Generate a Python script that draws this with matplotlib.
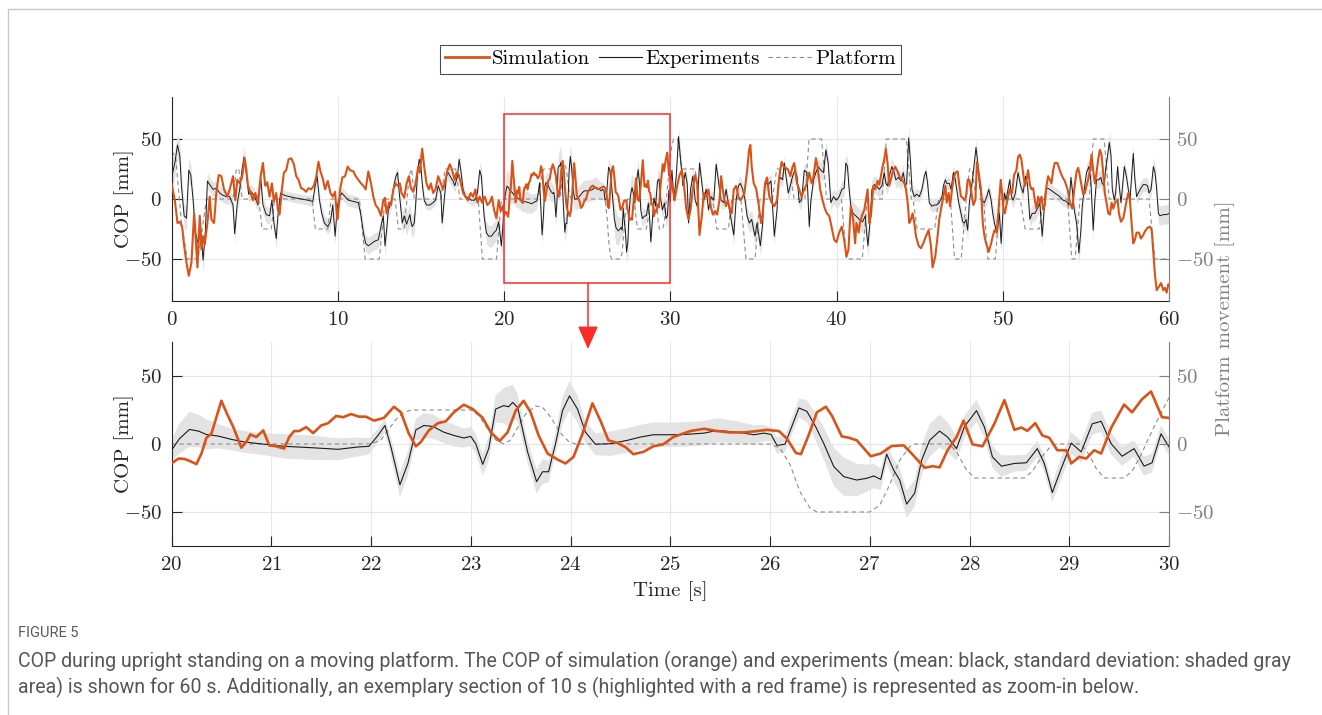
import numpy as np
import matplotlib
matplotlib.use("Agg")
import matplotlib.pyplot as plt
from matplotlib.patches import Rectangle, FancyArrowPatch
from matplotlib.lines import Line2D
from matplotlib import font_manager as fm

# ---------------- data ----------------
# Simulation COP [mm]
sim_t_a = [0.0,0.2,0.36,0.5,0.64,0.76,0.9,1.04,1.2,1.36,1.56,1.7,1.8,1.9,2.0,2.16,2.3,2.4,2.56,2.7,
           2.84,3.0,3.16,3.36,3.5,3.7,3.84,3.96,4.1,4.24,4.4,4.5,4.6,4.76,4.9,5.04,5.2,5.36,5.5,5.64,
           5.76,5.9,6.04,6.16,6.3,6.4,6.5,6.64,6.76,6.9,7.04,7.2,7.36,7.5,7.64,7.8,7.96,8.1,8.24,8.4,
           8.56,8.7,8.84,8.96,9.1,9.24,9.4,9.56,9.7,9.84,9.96]
sim_v_a = [13,-1,-20,-19,-23,-39,-53,-64,-53,-12,-57,-14,-42,-31,-38,-20,2,-17,-20,6,
           20,19,8,2,8,19,-1,16,13,18,34,24,11,5,-1,5,-3,19,30,11,
           14,2,13,-2,5,-9,-13,8,22,24,33,34,29,19,16,9,8,6,9,8,
           11,18,31,23,17,8,15,5,2,6,-17]
sim_t_b = [10.0,10.14,10.28,10.44,10.6,10.74,10.94,11.08,11.24,11.4,11.54,11.68,11.84,12.0,12.14,12.28,12.44,12.6,12.74,12.84,
           12.94,13.08,13.2,13.34,13.48,13.6,13.74,13.84,14.0,14.14,14.28,14.4,14.54,14.68,14.84,14.94,15.08,15.2,15.34,15.48,
           15.6,15.74,15.88,16.04,16.2,16.34,16.48,16.6,16.74,16.88,17.04,17.14,17.28,17.4,17.54,17.68,17.84,18.0,18.14,18.28,
           18.4,18.54,18.68,18.84,19.0,19.14,19.28,19.4,19.54,19.68,19.8,19.92]
sim_v_b = [-16,8,18,19,27,24,23,19,16,13,11,8,23,13,2,-5,-8,-14,-1,1,
           -12,-3,-5,8,13,11,13,5,1,13,19,9,6,13,27,22,42,27,13,8,
           13,5,8,19,13,8,16,24,29,24,16,22,20,13,5,2,-1,5,2,8,
           -3,2,-3,2,-5,-3,2,-9,-16,-1,-10,-6]
sim_t_c = [20.0,20.07,20.13,20.18,20.25,20.3,20.35,20.4,20.45,20.5,20.55,20.62,20.7,20.75,20.79,20.85,20.92,20.98,21.05,21.13,
           21.18,21.23,21.28,21.35,21.42,21.5,21.57,21.65,21.72,21.8,21.88,21.95,22.03,22.13,22.23,22.3,22.38,22.45,22.5,22.58,
           22.67,22.75,22.83,22.93,23.02,23.12,23.2,23.29,23.37,23.45,23.53,23.6,23.68,23.77,23.87,23.95,24.03,24.12,24.22,24.3,
           24.38,24.47,24.55,24.63,24.73,24.83,24.93,25.03,25.2,25.34,25.47,25.6,25.74,25.87,25.97,26.09,26.17,26.26,26.31,26.39,
           26.47,26.56,26.62,26.72,26.79,26.87,27.01,27.11,27.22,27.34,27.42,27.55,27.63,27.7,27.78,27.87,27.94,28.03,28.13,28.25,
           28.35,28.45,28.52,28.58,28.66,28.73,28.8,28.88,28.97,29.02,29.1,29.17,29.25,29.32,29.42,29.55,29.63,29.73,29.82,29.93,30.0]
sim_v_c = [-14.3,-10.7,-11,-12.4,-14.8,-7,4.6,7.5,19.7,31.8,23.3,12.4,-2.7,1.5,7,5.1,10,-1,-1.7,-3.4,
           5.1,9.5,9.5,12.4,8,13.6,15.3,20.6,19.7,22,20.1,20.1,17.2,19.2,27.4,23.3,7.5,-1.7,1.5,10,
           15.3,16.7,23.3,28.9,25.7,19.2,8.7,2.2,8.7,24.5,31.8,23.3,6.3,-7,-11.4,-14.3,-9.5,7.5,29.9,17.2,
           2.7,0.7,-2.2,-7.5,-5.8,-1.7,-0.2,5.1,9.5,11.2,9.5,8.5,8.5,9.5,10.4,9.5,3.9,-6.6,-7.5,7,
           23.3,27.4,20.9,5.6,4.6,2.7,-9,-7,-1.5,-1,-7,-17.5,-16.3,-17.2,-4.6,5.1,17.2,-0.2,-1.7,15,
           32.3,10.4,12.1,9.7,15.3,6.3,4.6,-4.6,-4.6,-14.3,-9.5,-10.7,-4.6,-7,11.9,29,23.3,33,38.6,19.7,19.2]
sim_t_d = [30.16,30.26,30.42,30.56,30.7,30.82,30.96,31.1,31.22,31.36,31.5,31.62,31.76,31.9,32.02,32.16,32.3,32.42,32.56,32.7,
           32.82,32.96,33.06,33.16,33.26,33.36,33.46,33.58,33.7,33.82,33.96,34.1,34.22,34.36,34.46,34.62,34.74,34.82,34.9,35.02,
           35.16,35.3,35.46,35.56,35.7,35.82,35.96,36.1,36.26,36.42,36.56,36.7,36.82,36.96,37.1,37.22,37.36,37.46,37.62,37.76,
           37.9,38.06,38.22,38.36,38.5,38.62,38.76,38.86,39.02,39.16,39.3,39.42,39.56,39.7,39.86]
sim_v_d = [8,-1,11,20,24,13,-8,-17,-9,8,20,13,-30,-14,5,2,8,-5,-13,-10,
           -13,-1,19,8,-1,-6,-1,-8,-12,8,11,2,-1,2,5,23,41,45,27,13,
           9,-3,-20,-12,13,18,2,-3,-6,-1,19,31,27,26,24,19,27,30,13,8,
           2,8,13,22,13,19,34,27,8,-1,-8,-12,-14,-23,-34]
sim_t_e = [40.0,40.16,40.32,40.46,40.6,40.72,40.86,41.0,41.12,41.2,41.33,41.41,41.53,41.67,41.77,41.87,41.97,42.07,42.21,42.33,
           42.47,42.57,42.67,42.77,42.87,42.97,43.07,43.17,43.27,43.37,43.53,43.67,43.78,43.94,44.08,44.18,44.28,44.38,44.48,44.58,
           44.68,44.78,44.94,45.08,45.22,45.38,45.54,45.68,45.78,45.94,46.08,46.18,46.28,46.43,46.55,46.63,46.75,46.83,46.95,47.03,
           47.15,47.29,47.39,47.49,47.59,47.69,47.79,47.89,47.99,48.15,48.23,48.35,48.45,48.55,48.69,48.8,48.9,49.0,49.16,49.3,
           49.4,49.5,49.64,49.8,49.88,49.96]
sim_v_e = [-36,-28,-23,-34,-48,-42,-6,-17,-37,-20,-28,-20,-14,-9,-1,8,-20,-14,11,8,
           15,12,19,27,33,42,30,11,16,22,27,23,19,16,13,8,-3,-20,-17,-12,
           -20,-31,-39,-41,-37,-31,-26,-39,-57,-48,-31,-17,-9,2,11,-3,5,-6,8,16,
           22,23,11,2,1,-1,2,16,16,2,-5,-1,31,22,8,-20,-31,-37,-44,-37,
           -31,-26,-28,2,16,5]
sim_t_f = [50.04,50.12,50.28,50.42,50.56,50.68,50.82,50.92,51.02,51.12,51.22,51.33,51.43,51.53,51.63,51.73,51.83,51.93,52.03,52.13,
           52.23,52.33,52.43,52.53,52.63,52.73,52.83,52.93,53.03,53.13,53.29,53.43,53.57,53.73,53.9,54.04,54.18,54.3,54.44,54.54,
           54.64,54.74,54.84,54.94,55.04,55.14,55.24,55.34,55.44,55.54,55.64,55.74,55.84,55.94,56.04,56.14,56.24,56.35,56.45,56.55,
           56.65,56.75,56.91,56.99,57.11,57.25,57.35,57.45,57.55,57.65,57.75,57.85,57.95,58.05,58.19,58.31,58.45,58.55,58.71,58.86,
           58.96,59.06,59.16,59.26,59.4,59.52,59.66,59.76,59.86,59.96,60.0]
sim_v_f = [-9,-12,-1,8,5,20,24,35,37,33,22,11,16,24,12,8,9,-1,-8,2,
           -3,2,-9,-5,11,19,16,13,24,30,30,24,19,15,8,-3,-8,8,23,26,
           19,11,4,5,11,16,24,37,24,13,22,33,41,37,22,5,-3,-12,-13,-3,
           -8,-3,-1,-12,-19,-16,-9,-1,5,-1,-20,-37,-34,-28,-28,-33,-30,-27,-24,-23,
           -26,-45,-64,-76,-73,-70,-76,-74,-78,-71,-72]

# Experiments: mean COP [mm] and standard deviation [mm]
exp_t_a = [0.0,0.04,0.2,0.36,0.5,0.6,0.76,0.9,1.04,1.16,1.3,1.44,1.6,1.76,1.9,2.04,2.16,2.3,2.5,2.7,
           2.9,3.1,3.3,3.5,3.7,3.8,3.96,4.1,4.24,4.36,4.5,4.64,4.8,5.0,5.2,5.36,5.5,5.7,5.9,6.04,
           6.16,6.3,6.4,6.56,6.8,7.1,7.4,7.8,8.2,8.5,8.64,8.76,8.9,9.04,9.2,9.4,9.56,9.7,9.84,9.96]
exp_v_a = [15,20,30,45,36,11,-14,-16,24,20,-1,-28,-37,-26,-51,-26,15,12,8,9,
           5,3,2,2,-5,-29,-3,8,24,35,22,4,6,2,-5,18,-5,-13,-14,-1,
           -20,-33,-14,5,3,2,1,0,-1,-2,11,19,-1,-12,-20,-23,-19,-5,-31,-9]
exp_s_a = [14,14,12,10,10,10,10,10,10,9,9,9,9,9,10,9,7,6,6,6,
           6,6,6,6,7,9,7,7,8,9,8,7,6,6,6,7,7,7,7,7,
           7,8,7,5,4,4,4,4,4,5,6,6,6,6,6,6,6,6,7,6]
exp_t_b = [10.04,10.24,10.44,10.64,10.94,11.24,11.4,11.54,11.68,11.84,12.04,12.24,12.44,12.64,12.74,12.84,12.94,13.04,13.14,13.24,
           13.4,13.5,13.6,13.68,13.8,13.88,14.0,14.14,14.24,14.34,14.4,14.48,14.6,14.68,14.8,14.9,15.0,15.08,15.2,15.34,
           15.54,15.74,15.88,16.04,16.2,16.28,16.4,16.54,16.64,16.8,16.94,17.04,17.2,17.3,17.4,17.54,17.68,17.84,18.04,18.24,
           18.4,18.54,18.64,18.8,18.94,19.08,19.24,19.4,19.54,19.68,19.84,19.92]
exp_v_b = [-1,5,2,-1,-2,-3,-14,-28,-37,-39,-37,-35,-34,-20,-14,-39,-26,-9,-6,-1,
           13,19,22,8,-9,-20,-14,-21,-17,-13,-19,-23,-20,-6,22,33,27,13,-1,-5,
           -5,-3,-1,11,5,-20,-1,19,22,18,15,11,19,33,24,8,2,1,-1,-1,
           5,24,19,-14,-28,-31,-31,-28,-26,-19,-39,-25]
exp_s_b = [5,5,5,5,5,5,6,7,7,7,7,7,7,7,7,8,8,7,6,6,
           6,6,6,7,8,9,9,9,9,9,9,9,9,9,8,8,7,6,5,4,
           4,4,4,5,5,7,6,6,6,6,6,5,5,6,6,5,4,4,4,4,
           5,6,7,8,9,9,9,9,9,9,9,8]
exp_t_c = [20.0,20.08,20.18,20.27,20.35,20.47,20.6,20.73,20.93,21.13,21.4,21.67,21.87,21.98,22.07,22.14,22.2,22.29,22.37,22.45,
           22.53,22.62,22.73,22.83,22.93,23.0,23.05,23.12,23.18,23.25,23.33,23.38,23.42,23.47,23.57,23.66,23.72,23.78,23.85,23.92,
           23.99,24.07,24.15,24.25,24.4,24.57,24.7,24.83,25.03,25.14,25.34,25.47,25.67,25.84,25.94,26.01,26.07,26.15,26.21,26.29,
           26.37,26.46,26.54,26.64,26.74,26.87,26.97,27.04,27.11,27.17,27.24,27.3,27.37,27.45,27.52,27.6,27.7,27.78,27.87,27.95,
           28.07,28.15,28.23,28.32,28.45,28.57,28.68,28.75,28.83,28.92,29.02,29.12,29.23,29.32,29.42,29.53,29.65,29.75,29.83,29.92,30.0]
exp_v_c = [-4.6,3.9,10.7,9.5,7,5.8,3.4,1.5,-0.2,-1.7,-2.7,-3.9,-2.2,-1.7,6.3,13.6,-2.2,-30,-14.3,10.4,
           13.6,12.9,8.7,6.3,4.4,5.6,0.2,-15,-3.4,25.7,28.2,27.4,30.6,26.9,-5.8,-27.7,-20.4,-20.4,0.2,24.5,
           35.4,25.7,8.7,-0.2,0.2,2.7,5.1,6.8,6.8,7,8,10,8.7,6.8,8,7,-1,-0.2,11.2,26.5,
           24,12.4,0.2,-16.7,-24,-26.5,-25.2,-23.5,-26,-7.5,-19.2,-26.5,-44.2,-36.2,-11.9,2.7,9.5,5.1,-3.4,12.9,
           24.5,12.4,-9.5,-16.3,-14.3,-13.8,-3.4,-14.3,-35.7,-18,0.7,-5.8,14.8,16.7,0.2,-9,-3.4,-16.3,-13.8,7.5,-2.2]
exp_s_c = [8,11,13,12,11,9,8,8,8,9,9,8,7,6,5,5,7,9,9,8,
           9,9,8,8,7,7,7,8,9,10,13,15,13,10,8,9,9,8,8,10,
           11,10,8,8,9,9,9,9,9,9,9,9,8,7,6,5,6,6,6,7,
           8,10,12,14,14,12,10,9,8,7,8,9,10,10,11,12,12,11,9,8,
           8,8,8,8,6,6,6,6,7,8,8,8,8,8,8,7,6,7,7,6,6]
exp_t_d = [30.1,30.22,30.36,30.5,30.62,30.76,30.9,31.02,31.1,31.22,31.36,31.5,31.62,31.76,31.9,32.02,32.16,32.3,32.46,32.62,
           32.76,32.86,32.96,33.06,33.22,33.36,33.46,33.62,33.82,33.96,34.1,34.22,34.36,34.5,34.62,34.76,34.9,35.02,35.1,35.22,
           35.3,35.42,35.56,35.66,35.76,35.9,36.06,36.26,36.42,36.5,36.62,36.76,36.86,36.96,37.1,37.22,37.36,37.5,37.62,37.76,
           37.9,38.06,38.22,38.36,38.46,38.62,38.76,38.9,39.06,39.22,39.36,39.5,39.66,39.82]
exp_v_d = [24,-1,19,52,33,11,22,13,-20,8,19,-1,-6,30,13,-1,8,-9,2,-1,
           29,19,8,-1,-3,8,-1,-14,-30,-1,11,13,8,-1,-14,-20,-17,-26,-31,-20,
           -28,-39,-20,8,13,12,15,-31,-9,13,18,16,30,19,5,11,19,24,19,-3,
           -1,24,22,-23,-1,16,22,27,24,22,41,30,-3,2]
exp_s_d = [7,7,7,8,8,7,7,7,8,7,7,6,6,7,6,6,6,6,6,6,
           6,6,6,6,6,6,6,7,8,7,6,6,6,7,8,8,8,8,9,8,
           8,8,8,7,6,6,6,7,6,6,6,6,6,6,6,6,6,6,6,6,
           6,6,6,7,6,6,7,7,7,7,7,7,7,6]
exp_t_e = [40.0,40.16,40.32,40.46,40.56,40.66,40.76,40.86,41.0,41.16,41.37,41.57,41.73,41.81,41.89,42.01,42.13,42.27,42.41,42.57,
           42.73,42.87,42.97,43.07,43.17,43.33,43.47,43.57,43.73,43.88,44.02,44.14,44.22,44.34,44.44,44.54,44.68,44.82,44.98,45.14,
           45.28,45.38,45.48,45.58,45.74,45.88,46.02,46.18,46.35,46.43,46.55,46.63,46.79,46.89,47.03,47.15,47.23,47.35,47.49,47.59,
           47.69,47.79,47.89,47.99,48.15,48.29,48.39,48.49,48.59,48.75,48.9,49.04,49.16,49.3,49.4,49.5,49.6,49.7,49.8,49.9,
           50.0,50.1,50.2]
exp_v_e = [-1,2,8,9,30,27,8,-6,-12,-14,-17,-19,-14,-28,-39,-20,8,12,11,8,
           11,22,13,11,19,27,22,16,18,15,22,11,13,51,33,8,2,4,2,8,
           19,23,13,-3,-6,-5,-5,-3,2,11,16,13,13,8,22,16,8,-3,-12,-19,
           -20,-17,-26,-3,13,30,43,31,13,-1,-3,2,8,-1,-12,-20,-26,-23,-12,-37,
           -14,5,-1]
exp_s_e = [7,7,7,7,7,7,7,8,9,9,9,9,9,10,10,9,8,7,7,7,
           7,7,7,7,7,7,7,7,7,7,7,8,9,10,9,7,5,5,5,5,
           5,5,5,5,5,5,5,5,5,5,5,5,5,5,6,6,6,7,7,7,
           7,7,8,8,7,7,7,7,6,6,6,6,6,7,8,9,9,9,9,9,
           8,7,6]
exp_t_f = [50.32,50.42,50.52,50.62,50.76,50.92,51.08,51.22,51.37,51.49,51.63,51.77,51.93,52.09,52.23,52.37,52.49,52.57,52.69,52.83,
           53.03,53.23,53.43,53.63,53.84,53.98,54.1,54.18,54.3,54.44,54.58,54.7,54.78,54.9,55.04,55.18,55.3,55.44,55.54,55.64,
           55.78,55.9,55.98,56.1,56.18,56.31,56.41,56.51,56.59,56.71,56.79,56.91,56.99,57.11,57.19,57.31,57.39,57.47,57.55,57.65,
           57.75,57.85,57.95,58.05,58.15,58.31,58.45,58.59,58.71,58.8,58.92,59.06,59.16,59.26,59.36,59.46,59.66,59.86,60.0]
exp_v_f = [8,16,2,-1,5,22,11,5,19,12,-17,-12,-12,-8,-3,-31,-9,8,9,8,
           6,4,2,-1,-2,-5,18,8,-9,-20,-45,-26,-6,8,22,27,15,-26,-1,16,
           16,18,13,11,24,37,47,36,8,-1,5,27,13,-3,8,27,22,16,8,-1,
           19,38,16,2,5,9,12,12,11,5,8,27,22,8,-12,-14,-13,-13,-12]
exp_s_f = [6,6,6,6,6,6,6,6,6,6,7,7,6,6,6,7,6,5,5,5,
           5,5,5,5,5,5,6,6,7,8,9,8,7,7,7,7,7,8,7,7,
           7,7,7,7,7,8,9,8,7,6,6,6,6,6,6,6,6,6,6,6,
           6,7,6,6,6,6,6,6,6,6,6,7,7,7,8,8,8,8,8]

# Platform movement [mm]
plat_t = [0.0,0.25,0.6,0.95,1.6,1.85,2.1,3.7,3.9,4.05,4.25,5.25,5.45,6.0,6.2,8.45,8.65,9.4,9.6,11.3,
          11.65,12.5,12.85,13.45,13.65,14.0,14.3,14.45,14.6,16.2,16.45,17.1,17.35,18.45,18.7,19.55,19.85,
          22.0,22.1,22.17,22.25,22.33,22.4,23.0,23.08,23.17,23.25,23.33,23.4,23.47,23.55,23.65,23.72,23.8,23.9,23.98,24.05,
          26.0,26.1,26.2,26.3,26.4,26.47,27.0,27.1,27.2,27.3,27.4,27.45,27.8,27.88,27.96,28.05,28.55,28.63,28.72,28.8,28.87,
          29.12,29.2,29.27,29.35,29.55,29.63,29.72,29.8,29.9,30.0,30.1,30.2,
          30.45,30.7,31.5,31.7,32.55,32.8,33.5,33.7,34.25,34.55,35.1,35.4,36.15,36.4,37.2,37.45,38.1,38.35,39.1,39.4,
          40.3,40.6,41.55,41.85,42.75,43.0,44.2,44.5,44.6,44.85,45.9,46.15,46.85,47.1,47.5,47.8,48.0,48.15,48.4,48.85,
          49.1,49.55,49.85,51.05,51.35,52.2,52.45,53.9,54.15,54.35,54.65,55.2,55.45,56.1,56.4,58.8,59.15,60.0]
plat_v = [40,35,-20,-50,-50,-25,0,0,25,25,0,0,-25,-25,0,0,-25,-25,0,0,
          -50,-50,0,0,-25,-25,20,25,0,0,25,25,0,0,-50,-50,0,
          0,3,10,18,23,25,25,21,11,3,0,3,12,22,28,27,20,8,2,0,
          0,-3,-15,-35,-47,-50,-50,-45,-30,-12,-2,0,0,-7,-18,-25,-25,-20,-10,-3,0,
          0,-8,-18,-25,-25,-20,-8,5,20,34,45,50,
          50,25,25,0,0,-25,-25,0,0,-50,-50,0,0,25,25,0,0,50,50,0,
          0,-50,-50,0,0,50,50,0,0,-25,-25,0,0,-50,-50,0,25,25,0,0,
          -50,-50,0,0,-25,-25,0,0,-50,-50,0,0,50,50,0,0,-50,-50]

legend_labels = ["Simulation", "Experiments", "Platform"]
top_xticks = [0, 10, 20, 30, 40, 50, 60]
bot_xticks = [20, 21, 22, 23, 24, 25, 26, 27, 28, 29, 30]
yticks = [-50, 0, 50]
zoom_window = (20, 30)

sim_t = np.array(sim_t_a + sim_t_b + sim_t_c + sim_t_d + sim_t_e + sim_t_f)
sim_v = np.array(sim_v_a + sim_v_b + sim_v_c + sim_v_d + sim_v_e + sim_v_f, dtype=float)
exp_t = np.array(exp_t_a + exp_t_b + exp_t_c + exp_t_d + exp_t_e + exp_t_f)
exp_v = np.array(exp_v_a + exp_v_b + exp_v_c + exp_v_d + exp_v_e + exp_v_f, dtype=float)
exp_s = np.array(exp_s_a + exp_s_b + exp_s_c + exp_s_d + exp_s_e + exp_s_f, dtype=float)
assert len(sim_t) == len(sim_v), (len(sim_t), len(sim_v))
assert len(exp_t) == len(exp_v) == len(exp_s), (len(exp_t), len(exp_v), len(exp_s))
assert len(plat_t) == len(plat_v), (len(plat_t), len(plat_v))

# ---------------- style ----------------
plt.rcParams.update({
    'font.family': 'serif', 'font.serif': ['cmr10'], 'mathtext.fontset': 'cm',
    'axes.formatter.use_mathtext': True, 'axes.unicode_minus': True,
})
W, H = 1322, 715
fig = plt.figure(figsize=(W / 100, H / 100), dpi=100)
fig.patch.set_facecolor('white')

def X(px): return px / W
def Y(py): return 1 - py / H

ORANGE = '#d95319'
BLACK = '#1a1a1a'
PLAT = '#8c8c8c'
GRAYT = '#808080'
AXC = '#262626'
BAND = '#e3e3e3'
GRID = '#e6e6e6'
RED = '#ff2a2a'
FS = 15

def panel(rect, xlim, xticks, ylim, lw_sim, lw_exp):
    ax = fig.add_axes(rect)
    ax.fill_between(exp_t, exp_v - exp_s, exp_v + exp_s, color=BAND, lw=0, zorder=1)
    ax.plot(plat_t, plat_v, color=PLAT, lw=0.8, ls=(0, (4, 3)), zorder=2)
    ax.plot(exp_t, exp_v, color=BLACK, lw=lw_exp, zorder=3)
    ax.plot(sim_t, sim_v, color=ORANGE, lw=lw_sim, zorder=4, solid_joinstyle='round')
    ax.set_xlim(*xlim)
    ax.set_ylim(*ylim)
    ax.set_xticks(xticks)
    ax.set_yticks(yticks)
    ax.grid(True, color=GRID, lw=0.8)
    ax.set_axisbelow(True)
    ax.spines['top'].set_visible(False)
    ax.spines['right'].set_visible(False)
    for s in ('left', 'bottom'):
        ax.spines[s].set_color(AXC)
        ax.spines[s].set_linewidth(0.8)
    ax.tick_params(direction='in', length=7, width=0.8, color=AXC, labelsize=FS, pad=7,
                   labelcolor=AXC)
    ax2 = ax.twinx()
    ax2.set_ylim(*ylim)
    ax2.set_yticks(yticks)
    for s in ('left', 'top', 'bottom'):
        ax2.spines[s].set_visible(False)
    ax2.spines['right'].set_color(GRAYT)
    ax2.spines['right'].set_linewidth(0.8)
    ax2.tick_params(direction='in', length=7, width=0.8, color=GRAYT, labelcolor=GRAYT,
                    labelsize=FS, pad=5)
    return ax

ax1 = panel([X(171.5), Y(301), X(1169) - X(171.5), Y(97) - Y(301)], (0, 60), top_xticks,
            (-85, 85), 1.5, 0.7)
ax2 = panel([X(171.5), Y(546), X(1169) - X(171.5), Y(342) - Y(546)], zoom_window, bot_xticks,
            (-75, 75), 1.9, 0.8)

# red frame + arrow
ax1.add_patch(Rectangle((zoom_window[0], -70), zoom_window[1] - zoom_window[0], 141,
                        fill=False, edgecolor=RED, lw=1.1, zorder=6, clip_on=False))
fig.add_artist(FancyArrowPatch((X(588), Y(283)), (X(588), Y(349)), transform=fig.transFigure,
                               arrowstyle='-|>,head_length=0.95,head_width=0.42',
                               mutation_scale=15, color=RED, lw=1.1, shrinkA=0, shrinkB=0))

# labels
fig.text(X(124), Y(199), 'COP [mm]', rotation=90, ha='center', va='center', fontsize=FS, color=AXC)
fig.text(X(124), Y(444), 'COP [mm]', rotation=90, ha='center', va='center', fontsize=FS, color=AXC)
fig.text(X(670), Y(591), 'Time [s]', ha='center', va='center', fontsize=FS, color=AXC)
fig.text(X(1225), Y(318), 'Platform movement [mm]', rotation=90, ha='center', va='center',
         fontsize=FS, color=GRAYT)

# legend
handles = [Line2D([], [], color=ORANGE, lw=2),
           Line2D([], [], color=BLACK, lw=0.8),
           Line2D([], [], color=PLAT, lw=0.8, ls=(0, (4, 3)))]
leg = fig.legend(handles, legend_labels, loc='center', bbox_to_anchor=(X(670.5), Y(59)), ncol=3,
                 frameon=True, fancybox=False, edgecolor='#4d4d4d', framealpha=1, fontsize=FS,
                 handlelength=2.1, handletextpad=0.15, columnspacing=0.4, borderpad=0.25,
                 borderaxespad=0)
leg.get_frame().set_linewidth(0.8)

# outer frame
fig.add_artist(Rectangle((X(8), Y(720)), 1.2, Y(9) - Y(720), transform=fig.transFigure,
                         fill=False, edgecolor='#c8c8c8', lw=1.0))

# caption
avail = {f.name for f in fm.fontManager.ttflist}
cap_font = 'Liberation Sans Narrow' if 'Liberation Sans Narrow' in avail else 'Roboto'
fig.text(X(18), Y(633), 'FIGURE 5', ha='left', va='center', fontsize=10.5, color='#5a5a5a',
         family=cap_font)
l1 = fig.text(X(18), Y(661), 'COP during upright standing on a moving platform. The COP of simulation '
              '(orange) and experiments (mean: black, standard deviation: shaded gray',
              ha='left', va='center', fontsize=13, color='#555555', family=cap_font)
l2 = fig.text(X(18), Y(687), 'area) is shown for 60 s. Additionally, an exemplary section of 10 s '
              '(highlighted with a red frame) is represented as zoom-in below.',
              ha='left', va='center', fontsize=13, color='#555555', family=cap_font)
r = fig.canvas.get_renderer()
w1 = l1.get_window_extent(r).width
scale = 1272.0 / w1
l1.set_fontsize(13 * scale)
l2.set_fontsize(13 * scale)

fig.savefig('out.png', dpi=100)
